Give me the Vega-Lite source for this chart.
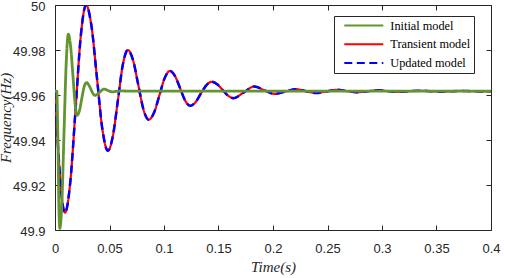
{
  "$schema": "https://vega.github.io/schema/vega-lite/v6.json",
  "width": 436,
  "height": 225,
  "autosize": {"type": "none"},
  "padding": {"left": 55, "top": 5, "right": 14, "bottom": 48},
  "background": "white",
  "config": {"view": {"stroke": null}},
  "datasets": {
    "curves": [
      {"model": "Transient model", "t": 0, "f": 49.9617},
      {"model": "Transient model", "t": 0.0023, "f": 49.941},
      {"model": "Transient model", "t": 0.0046, "f": 49.9235},
      {"model": "Transient model", "t": 0.0069, "f": 49.9118},
      {"model": "Transient model", "t": 0.0092, "f": 49.9077},
      {"model": "Transient model", "t": 0.014, "f": 49.9212},
      {"model": "Transient model", "t": 0.0189, "f": 49.9539},
      {"model": "Transient model", "t": 0.0237, "f": 49.9865},
      {"model": "Transient model", "t": 0.0285, "f": 50.0},
      {"model": "Transient model", "t": 0.0335, "f": 49.9905},
      {"model": "Transient model", "t": 0.0385, "f": 49.9676},
      {"model": "Transient model", "t": 0.0435, "f": 49.9447},
      {"model": "Transient model", "t": 0.0485, "f": 49.9352},
      {"model": "Transient model", "t": 0.0531, "f": 49.9418},
      {"model": "Transient model", "t": 0.0577, "f": 49.9576},
      {"model": "Transient model", "t": 0.0622, "f": 49.9734},
      {"model": "Transient model", "t": 0.0668, "f": 49.98},
      {"model": "Transient model", "t": 0.0716, "f": 49.9755},
      {"model": "Transient model", "t": 0.0764, "f": 49.9645},
      {"model": "Transient model", "t": 0.0812, "f": 49.9535},
      {"model": "Transient model", "t": 0.086, "f": 49.949},
      {"model": "Transient model", "t": 0.0909, "f": 49.9522},
      {"model": "Transient model", "t": 0.0958, "f": 49.9599},
      {"model": "Transient model", "t": 0.1006, "f": 49.9675},
      {"model": "Transient model", "t": 0.1055, "f": 49.9707},
      {"model": "Transient model", "t": 0.1101, "f": 49.9684},
      {"model": "Transient model", "t": 0.1148, "f": 49.963},
      {"model": "Transient model", "t": 0.1194, "f": 49.9575},
      {"model": "Transient model", "t": 0.124, "f": 49.9552},
      {"model": "Transient model", "t": 0.1289, "f": 49.9568},
      {"model": "Transient model", "t": 0.1338, "f": 49.9606},
      {"model": "Transient model", "t": 0.1388, "f": 49.9643},
      {"model": "Transient model", "t": 0.1437, "f": 49.9659},
      {"model": "Transient model", "t": 0.1487, "f": 49.9648},
      {"model": "Transient model", "t": 0.1537, "f": 49.9623},
      {"model": "Transient model", "t": 0.1588, "f": 49.9597},
      {"model": "Transient model", "t": 0.1638, "f": 49.9586},
      {"model": "Transient model", "t": 0.1733, "f": 49.9612},
      {"model": "Transient model", "t": 0.1828, "f": 49.9638},
      {"model": "Transient model", "t": 0.1921, "f": 49.9621},
      {"model": "Transient model", "t": 0.2015, "f": 49.9605},
      {"model": "Transient model", "t": 0.2112, "f": 49.9615},
      {"model": "Transient model", "t": 0.221, "f": 49.9626},
      {"model": "Transient model", "t": 0.2302, "f": 49.9617},
      {"model": "Transient model", "t": 0.2395, "f": 49.9609},
      {"model": "Transient model", "t": 0.249, "f": 49.9616},
      {"model": "Transient model", "t": 0.2585, "f": 49.9623},
      {"model": "Transient model", "t": 0.268, "f": 49.9617},
      {"model": "Transient model", "t": 0.2775, "f": 49.9612},
      {"model": "Transient model", "t": 0.287, "f": 49.9617},
      {"model": "Transient model", "t": 0.2965, "f": 49.9621},
      {"model": "Transient model", "t": 0.306, "f": 49.9617},
      {"model": "Transient model", "t": 0.3155, "f": 49.9614},
      {"model": "Transient model", "t": 0.325, "f": 49.9617},
      {"model": "Transient model", "t": 0.335, "f": 49.9619},
      {"model": "Transient model", "t": 0.3445, "f": 49.9617},
      {"model": "Transient model", "t": 0.354, "f": 49.9615},
      {"model": "Transient model", "t": 0.3635, "f": 49.9617},
      {"model": "Transient model", "t": 0.373, "f": 49.9618},
      {"model": "Transient model", "t": 0.3825, "f": 49.9617},
      {"model": "Transient model", "t": 0.392, "f": 49.9616},
      {"model": "Transient model", "t": 0.4, "f": 49.9617},

      {"model": "Updated model", "t": 0, "f": 49.9617},
      {"model": "Updated model", "t": 0.0023, "f": 49.941},
      {"model": "Updated model", "t": 0.0046, "f": 49.9235},
      {"model": "Updated model", "t": 0.0069, "f": 49.9118},
      {"model": "Updated model", "t": 0.0092, "f": 49.9077},
      {"model": "Updated model", "t": 0.014, "f": 49.9212},
      {"model": "Updated model", "t": 0.0189, "f": 49.9539},
      {"model": "Updated model", "t": 0.0237, "f": 49.9865},
      {"model": "Updated model", "t": 0.0285, "f": 50.0},
      {"model": "Updated model", "t": 0.0335, "f": 49.9905},
      {"model": "Updated model", "t": 0.0385, "f": 49.9676},
      {"model": "Updated model", "t": 0.0435, "f": 49.9447},
      {"model": "Updated model", "t": 0.0485, "f": 49.9352},
      {"model": "Updated model", "t": 0.0531, "f": 49.9418},
      {"model": "Updated model", "t": 0.0577, "f": 49.9576},
      {"model": "Updated model", "t": 0.0622, "f": 49.9734},
      {"model": "Updated model", "t": 0.0668, "f": 49.98},
      {"model": "Updated model", "t": 0.0716, "f": 49.9755},
      {"model": "Updated model", "t": 0.0764, "f": 49.9645},
      {"model": "Updated model", "t": 0.0812, "f": 49.9535},
      {"model": "Updated model", "t": 0.086, "f": 49.949},
      {"model": "Updated model", "t": 0.0909, "f": 49.9522},
      {"model": "Updated model", "t": 0.0958, "f": 49.9599},
      {"model": "Updated model", "t": 0.1006, "f": 49.9675},
      {"model": "Updated model", "t": 0.1055, "f": 49.9707},
      {"model": "Updated model", "t": 0.1101, "f": 49.9684},
      {"model": "Updated model", "t": 0.1148, "f": 49.963},
      {"model": "Updated model", "t": 0.1194, "f": 49.9575},
      {"model": "Updated model", "t": 0.124, "f": 49.9552},
      {"model": "Updated model", "t": 0.1289, "f": 49.9568},
      {"model": "Updated model", "t": 0.1338, "f": 49.9606},
      {"model": "Updated model", "t": 0.1388, "f": 49.9643},
      {"model": "Updated model", "t": 0.1437, "f": 49.9659},
      {"model": "Updated model", "t": 0.1487, "f": 49.9648},
      {"model": "Updated model", "t": 0.1537, "f": 49.9623},
      {"model": "Updated model", "t": 0.1588, "f": 49.9597},
      {"model": "Updated model", "t": 0.1638, "f": 49.9586},
      {"model": "Updated model", "t": 0.1733, "f": 49.9612},
      {"model": "Updated model", "t": 0.1828, "f": 49.9638},
      {"model": "Updated model", "t": 0.1921, "f": 49.9621},
      {"model": "Updated model", "t": 0.2015, "f": 49.9605},
      {"model": "Updated model", "t": 0.2112, "f": 49.9615},
      {"model": "Updated model", "t": 0.221, "f": 49.9626},
      {"model": "Updated model", "t": 0.2302, "f": 49.9617},
      {"model": "Updated model", "t": 0.2395, "f": 49.9609},
      {"model": "Updated model", "t": 0.249, "f": 49.9616},
      {"model": "Updated model", "t": 0.2585, "f": 49.9623},
      {"model": "Updated model", "t": 0.268, "f": 49.9617},
      {"model": "Updated model", "t": 0.2775, "f": 49.9612},
      {"model": "Updated model", "t": 0.287, "f": 49.9617},
      {"model": "Updated model", "t": 0.2965, "f": 49.9621},
      {"model": "Updated model", "t": 0.306, "f": 49.9617},
      {"model": "Updated model", "t": 0.3155, "f": 49.9614},
      {"model": "Updated model", "t": 0.325, "f": 49.9617},
      {"model": "Updated model", "t": 0.335, "f": 49.9619},
      {"model": "Updated model", "t": 0.3445, "f": 49.9617},
      {"model": "Updated model", "t": 0.354, "f": 49.9615},
      {"model": "Updated model", "t": 0.3635, "f": 49.9617},
      {"model": "Updated model", "t": 0.373, "f": 49.9618},
      {"model": "Updated model", "t": 0.3825, "f": 49.9617},
      {"model": "Updated model", "t": 0.392, "f": 49.9616},
      {"model": "Updated model", "t": 0.4, "f": 49.9617},

      {"model": "Initial model", "t": 0, "f": 49.9617},
      {"model": "Initial model", "t": 0.0016, "f": 49.9617},
      {"model": "Initial model", "t": 0.0025, "f": 49.945},
      {"model": "Initial model", "t": 0.0035, "f": 49.912},
      {"model": "Initial model", "t": 0.0044, "f": 49.9007},
      {"model": "Initial model", "t": 0.0064, "f": 49.9133},
      {"model": "Initial model", "t": 0.0083, "f": 49.9439},
      {"model": "Initial model", "t": 0.0103, "f": 49.9744},
      {"model": "Initial model", "t": 0.0122, "f": 49.987},
      {"model": "Initial model", "t": 0.0143, "f": 49.9817},
      {"model": "Initial model", "t": 0.0164, "f": 49.969},
      {"model": "Initial model", "t": 0.0184, "f": 49.9563},
      {"model": "Initial model", "t": 0.0203, "f": 49.951},
      {"model": "Initial model", "t": 0.0225, "f": 49.9532},
      {"model": "Initial model", "t": 0.0246, "f": 49.9585},
      {"model": "Initial model", "t": 0.0268, "f": 49.9638},
      {"model": "Initial model", "t": 0.029, "f": 49.9655},
      {"model": "Initial model", "t": 0.0309, "f": 49.9645},
      {"model": "Initial model", "t": 0.0328, "f": 49.9627},
      {"model": "Initial model", "t": 0.0348, "f": 49.9607},
      {"model": "Initial model", "t": 0.0367, "f": 49.9598},
      {"model": "Initial model", "t": 0.0408, "f": 49.9612},
      {"model": "Initial model", "t": 0.045, "f": 49.9626},
      {"model": "Initial model", "t": 0.049, "f": 49.9619},
      {"model": "Initial model", "t": 0.053, "f": 49.9614},
      {"model": "Initial model", "t": 0.057, "f": 49.9617},
      {"model": "Initial model", "t": 0.061, "f": 49.9618},
      {"model": "Initial model", "t": 0.07, "f": 49.9617},
      {"model": "Initial model", "t": 0.4, "f": 49.9617}
    ]
  },
  "data": {"name": "curves"},
  "layer": [
    {
      "transform": [{"filter": "datum.model === 'Transient model'"}],
      "mark": {"type": "line", "interpolate": "monotone", "strokeWidth": 2.2, "clip": true},
      "encoding": {
        "x": {"field": "t", "type": "quantitative", "scale": {"domain": [0, 0.4], "nice": false, "zero": false},
          "axis": {"orient": "bottom", "values": [0, 0.05, 0.1, 0.15, 0.2, 0.25, 0.3, 0.35, 0.4], "format": ".2~f", "grid": false,
            "tickSize": -5, "labelPadding": 17, "labelFlush": false, "labelOverlap": false, "labelBound": false,
            "domainColor": "#262626", "tickColor": "#262626", "labelColor": "#262626", "labelFont": "Liberation Sans", "labelFontSize": 13,
            "title": "Time(s)", "titleFont": "Liberation Serif", "titleFontStyle": "italic", "titleFontWeight": "normal", "titleFontSize": 15, "titleColor": "#262626", "titlePadding": 4}},
        "y": {"field": "f", "type": "quantitative", "scale": {"domain": [49.9, 50], "nice": false, "zero": false},
          "axis": {"orient": "left", "values": [49.9, 49.92, 49.94, 49.96, 49.98, 50], "format": ".2~f", "grid": false,
            "tickSize": -5, "labelPadding": 15, "labelOffset": 1.5, "labelOverlap": false, "labelBound": false,
            "domainColor": "#262626", "tickColor": "#262626", "labelColor": "#262626", "labelFont": "Liberation Sans", "labelFontSize": 13,
            "title": "Frequency(Hz)", "titleFont": "Liberation Serif", "titleFontStyle": "italic", "titleFontWeight": "normal", "titleFontSize": 15, "titleColor": "#262626", "titlePadding": -1.5}},
        "color": {"field": "model", "type": "nominal",
          "scale": {"domain": ["Initial model", "Transient model", "Updated model"], "range": ["#629530", "#ff0000", "#0000ff"]},
          "legend": {"title": null, "orient": "none", "legendX": 279, "legendY": 11, "symbolType": "stroke", "symbolSize": 1521,
            "symbolStrokeWidth": 2, "symbolOffset": 5.8, "padding": 3.5, "rowPadding": 5.7, "clipHeight": 12, "labelOffset": 6,
            "labelFont": "Liberation Serif", "labelFontSize": 12.3, "labelColor": "#000000", "strokeColor": "#262626", "fillColor": "#ffffff"}},
        "strokeDash": {"field": "model", "type": "nominal",
          "scale": {"domain": ["Initial model", "Transient model", "Updated model"], "range": [[1, 0], [1, 0], [8, 4.5]]},
          "legend": {"title": null, "orient": "none", "legendX": 279, "legendY": 11, "symbolType": "stroke", "symbolSize": 1521,
            "symbolStrokeWidth": 2, "symbolOffset": 5.8, "padding": 3.5, "rowPadding": 5.7, "clipHeight": 12, "labelOffset": 6,
            "labelFont": "Liberation Serif", "labelFontSize": 12.3, "labelColor": "#000000", "strokeColor": "#262626", "fillColor": "#ffffff"}}
      }
    },
    {
      "transform": [{"filter": "datum.model === 'Updated model'"}],
      "mark": {"type": "line", "interpolate": "monotone", "strokeWidth": 2.5, "clip": true},
      "encoding": {
        "x": {"field": "t", "type": "quantitative", "axis": null},
        "y": {"field": "f", "type": "quantitative", "axis": null},
        "color": {"field": "model", "type": "nominal"},
        "strokeDash": {"field": "model", "type": "nominal"}
      }
    },
    {
      "transform": [{"filter": "datum.model === 'Initial model'"}],
      "mark": {"type": "line", "interpolate": "monotone", "strokeWidth": 2.8, "clip": true},
      "encoding": {
        "x": {"field": "t", "type": "quantitative", "axis": null},
        "y": {"field": "f", "type": "quantitative", "axis": null},
        "color": {"field": "model", "type": "nominal"},
        "strokeDash": {"field": "model", "type": "nominal"}
      }
    },
    {
      "transform": [{"filter": "datum.model === 'Initial model'"}],
      "mark": {"type": "line", "strokeOpacity": 0},
      "encoding": {
        "x": {"field": "t", "type": "quantitative",
          "axis": {"orient": "top", "values": [0, 0.05, 0.1, 0.15, 0.2, 0.25, 0.3, 0.35, 0.4], "labels": false, "title": null, "grid": false,
            "tickSize": -5, "domainColor": "#262626", "tickColor": "#262626"}},
        "y": {"field": "f", "type": "quantitative",
          "axis": {"orient": "right", "values": [49.9, 49.92, 49.94, 49.96, 49.98, 50], "labels": false, "title": null, "grid": false,
            "tickSize": -5, "domainColor": "#262626", "tickColor": "#262626"}}
      }
    }
  ],
  "resolve": {"axis": {"x": "independent", "y": "independent"}}
}
